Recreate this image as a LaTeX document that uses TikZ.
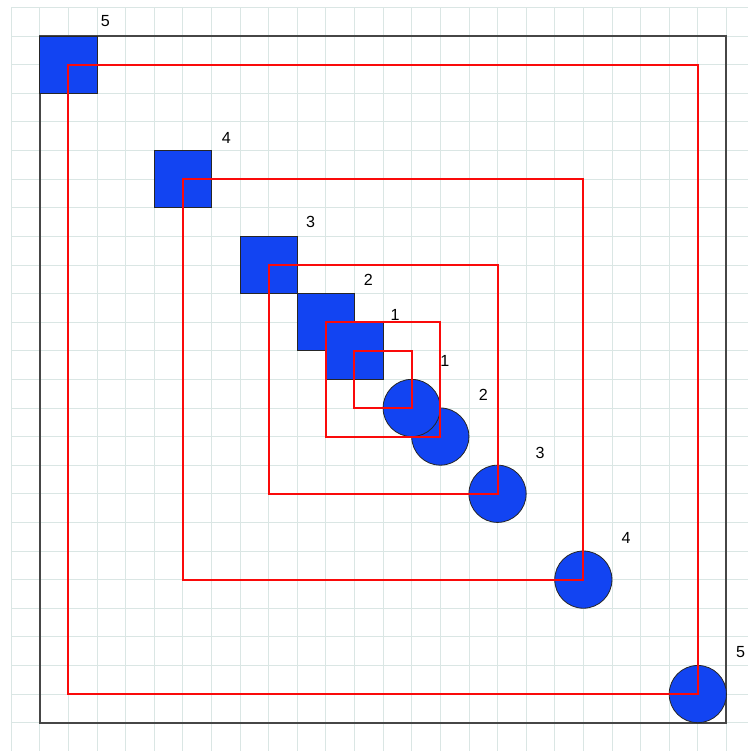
\documentclass[tikz,border=0pt]{standalone}
\usepackage{fontspec}
\setmainfont{Liberation Sans}
\definecolor{gridgray}{RGB}{218,230,228}
\definecolor{framegray}{RGB}{70,70,70}
\definecolor{boxblue}{RGB}{18,68,242}
\definecolor{wirered}{RGB}{250,10,10}
\begin{document}
\begin{tikzpicture}[
    x=1cm, y=1cm,
    gridline/.style={draw=gridgray, line width=0.8pt},
    frame/.style={draw=framegray, line width=2pt},
    sq/.style={draw=black!85, fill=boxblue, line width=0.8pt, minimum size=2cm, inner sep=0pt},
    ball/.style={circle, draw=black!85, fill=boxblue, line width=0.8pt, minimum size=2cm, inner sep=0pt},
    wire/.style={draw=wirered, line width=2pt},
    num/.style={font=\fontsize{16}{18}\selectfont, inner sep=0pt}
]
\useasboundingbox (-1.39,-0.99) rectangle (24.77,25.26);

% Background grid and frame
\draw[gridline] (-1,-1) grid (24.77,25);
\draw[frame] (0,0) rectangle (24,24);

% Level 5
\node[sq] (s5) at (1,23) {};
\node[ball] (c5) at (23,1) {};

% Level 4
\node[sq] (s4) at (5,19) {};
\node[ball] (c4) at (19,5) {};

% Level 3
\node[sq] (s3) at (8,16) {};
\node[ball] (c3) at (16,8) {};

% Level 2
\node[sq] (s2) at (10,14) {};
\node[ball] (c2) at (14,10) {};

% Level 1
\node[sq] (s1) at (11,13) {};
\node[ball] (c1) at (13,11) {};

% Red loops between square and circle centres
\draw[wire] (s5.center) rectangle (c5.center);
\draw[wire] (s4.center) rectangle (c4.center);
\draw[wire] (s3.center) rectangle (c3.center);
\draw[wire] (s2.center) rectangle (c2.center);
\draw[wire] (s1.center) rectangle (c1.center);

% Numbers
\node[num] (ns5) at ([shift={(0.28,0.5)}]s5.north east) {5};
\node[num] (ns4) at ([shift={(0.51,0.43)}]s4.north east) {4};
\node[num] (ns3) at ([shift={(0.45,0.49)}]s3.north east) {3};
\node[num] (ns2) at ([shift={(0.47,0.47)}]s2.north east) {2};
\node[num] (ns1) at ([shift={(0.41,0.25)}]s1.north east) {1};
\node[num] (nc1) at ([shift={(1.16,1.65)}]c1.center) {1};
\node[num] (nc2) at ([shift={(1.5,1.45)}]c2.center) {2};
\node[num] (nc3) at ([shift={(1.49,1.42)}]c3.center) {3};
\node[num] (nc4) at ([shift={(1.49,1.44)}]c4.center) {4};
\node[num] (nc5) at ([shift={(1.5,1.47)}]c5.center) {5};
\end{tikzpicture}
\end{document}
